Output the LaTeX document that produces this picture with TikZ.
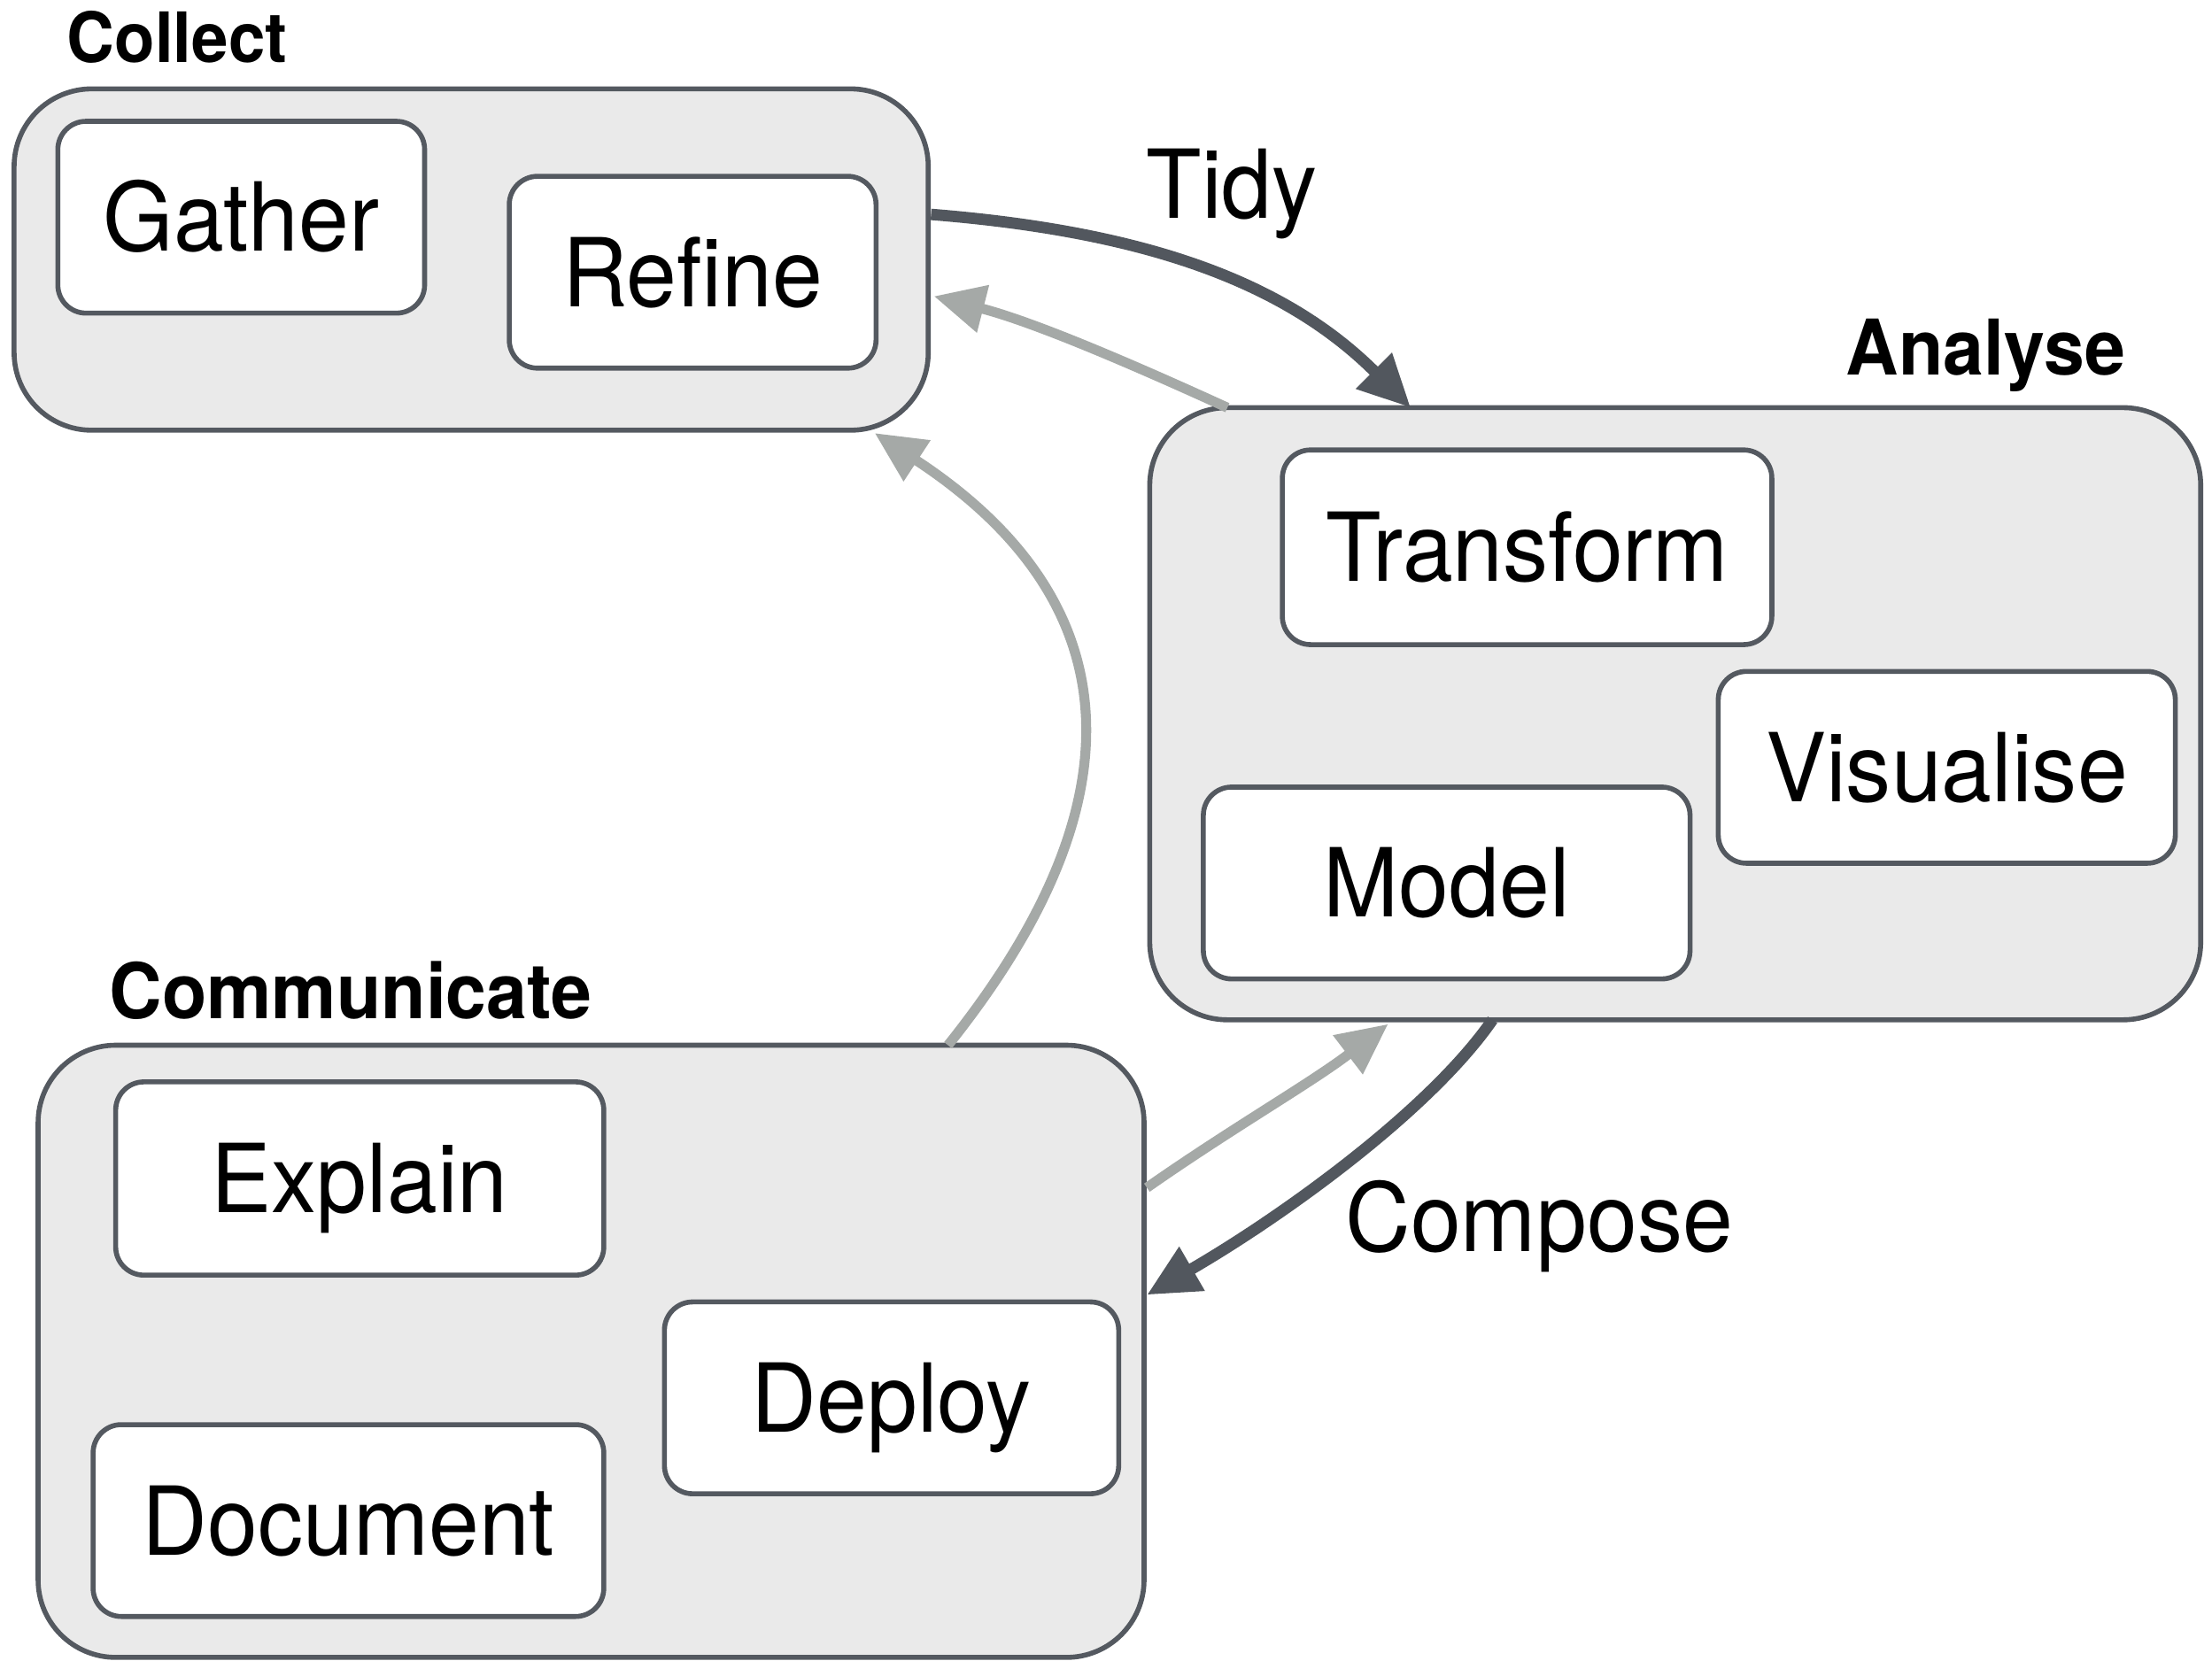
\documentclass[tikz,border=0pt]{standalone}
\usepackage{fontspec}
\setmainfont{TeX Gyre Heros}[FakeStretch=0.95]
\usetikzlibrary{arrows.meta,calc}

\definecolor{edgegray}{HTML}{545960}
\definecolor{panelfill}{HTML}{EAEAEA}
\definecolor{flowdark}{HTML}{52575E}
\definecolor{flowlight}{HTML}{A5A9A7}

\tikzset{
  panel/.style={draw=edgegray, fill=panelfill, line width=1pt,
    rounded corners=5.5mm, inner sep=0pt, outer sep=0pt},
  stage/.style={draw=edgegray, fill=white, line width=1pt,
    rounded corners=2mm, inner sep=0pt, outer sep=0pt,
    font=\fontsize{19.2}{23}\selectfont, text height=13.8pt, text depth=0pt},
  grouplabel/.style={anchor=base west, inner sep=0pt,
    font=\fontsize{15.5}{18}\selectfont\bfseries},
  flowlabel/.style={anchor=base west, inner sep=0pt,
    font=\fontsize{19.2}{23}\selectfont},
  mainflow/.style={draw=flowdark, line width=2.3pt,
    -{Triangle[length=3.7mm,width=3.4mm]}},
  backflow/.style={draw=flowlight, line width=2pt,
    -{Triangle[length=3.6mm,width=3.3mm]}},
}

\begin{document}
\begin{tikzpicture}[x=0.1mm, y=-0.1mm]
\useasboundingbox (0,0) rectangle (1568,1177);

% the three activity groups
\node[panel, minimum width=64.8mm, minimum height=24.2mm] (collect) at (334,184) {};
\node[panel, minimum width=74.5mm, minimum height=43.4mm] (analyse) at (1187.5,506) {};
\node[panel, minimum width=78.4mm, minimum height=43.4mm] (communicate) at (419,958) {};

\node[grouplabel, font=\fontsize{14}{17}\selectfont\bfseries] (collectlbl) at (47,44) {Collect};
\node[grouplabel] (analyselbl) at (1308,266) {Analyse};
\node[grouplabel] (communicatelbl) at (77,722) {Communicate};

% steps inside each group
\node[stage, minimum width=26mm, minimum height=13.6mm] (gather) at (171,154) {Gather};
\node[stage, minimum width=26mm, minimum height=13.6mm] (refine) at (491,193) {Refine};

\node[stage, minimum width=34.7mm, minimum height=13.8mm] (transform) at (1082.5,388) {Transform};
\node[stage, minimum width=32.4mm, minimum height=13.6mm] (visualise) at (1380,544) {Visualise};
\node[stage, minimum width=34.5mm, minimum height=13.6mm] (model) at (1025.5,626) {Model};

\node[stage, minimum width=34.6mm, minimum height=13.7mm] (explain) at (255,835.5) {Explain};
\node[stage, minimum width=32.2mm, minimum height=13.6mm] (deploy) at (632,991) {Deploy};
\node[stage, minimum width=36.2mm, minimum height=13.6mm] (document) at (247,1078) {Document};

% forward flow
\draw[mainflow] ($(collect.north east)+(2,89)$)
  .. controls +(150,12) and +(-90,-90) .. ($(analyse.north west)+(185,0)$);
\draw[mainflow] ($(analyse.south west)+(243,0)$)
  .. controls +(-45,65) and +(95,-55) .. ($(communicate.north east)+(2,177)$);

% feedback flow
\draw[backflow] ($(analyse.north west)+(55,0)$)
  .. controls +(-70,-32) and +(70,18) .. ($(collect.north east)+(4,147)$);
\draw[backflow] ($(communicate.north west)+(645,0)$)
  .. controls +(140,-175) and +(180,118) .. ($(collect.south east)+(-38,2)$);
\draw[backflow] ($(communicate.north east)+(2,101)$)
  .. controls +(60,-42) and +(-55,42) .. ($(analyse.south west)+(169,3)$);

% flow names
\node[flowlabel] (tidy) at (812,155) {Tidy};
\node[flowlabel] (compose) at (953,887) {Compose};
\end{tikzpicture}
\end{document}
